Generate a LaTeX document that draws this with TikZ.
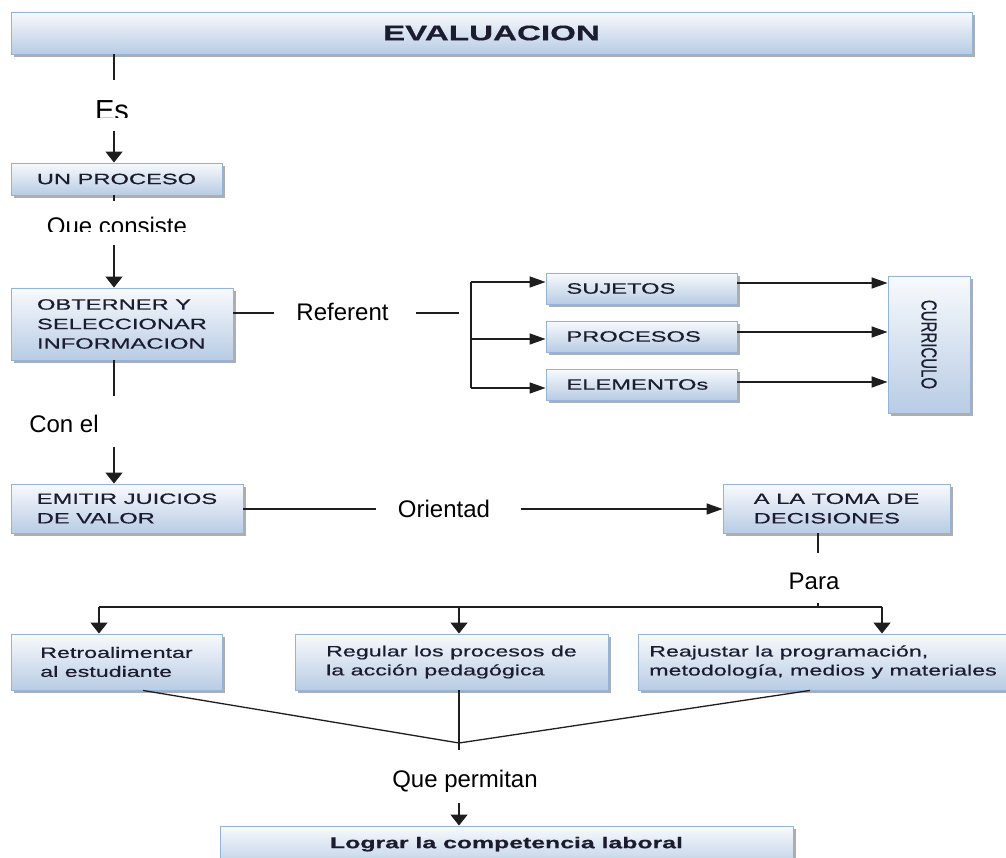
\documentclass[tikz,border=0pt]{standalone}
\usepackage{fontspec}
\setmainfont{Liberation Sans}
\newfontfamily\boxfont[FakeStretch=1.58,FakeBold=0.5]{Liberation Sans}
\newfontfamily\lowfont[FakeStretch=1.55,FakeBold=0.5]{Liberation Sans}
\newfontfamily\upfont[FakeBold=0.5]{Liberation Sans}
\usetikzlibrary{arrows.meta,shadows}

\definecolor{boxtop}{RGB}{248,250,253}
\definecolor{boxbot}{RGB}{184,204,228}
\definecolor{boxline}{RGB}{149,179,215}
\definecolor{boxtext}{RGB}{28,28,48}
\definecolor{linkcol}{RGB}{30,30,30}

\begin{document}
\begin{tikzpicture}[x=1pt,y=-1pt,
  every node/.style={inner sep=0pt},
  box/.style={draw=boxline, line width=0.9pt, top color=boxtop, bottom color=boxbot,
    align=left, text=boxtext,
    drop shadow={shadow xshift=2.5pt, shadow yshift=-3pt, fill=black!45, opacity=0.7}},
  capsbox/.style={box, font=\boxfont\fontsize{15}{19.5}\selectfont},
  lowbox/.style={box, font=\lowfont\fontsize{15}{19}\selectfont},
  titlebox/.style={box, font=\boxfont\bfseries\fontsize{21}{25}\selectfont},
  goalbox/.style={box, font=\boxfont\bfseries\fontsize{15.7}{19}\selectfont},
  lbl/.style={anchor=base, font=\fontsize{24}{28}\selectfont, text=black},
  link/.style={draw=linkcol, line width=1.6pt},
  thinlink/.style={draw=linkcol, line width=1.3pt},
  varrow/.style={link, -{Triangle[width=17pt,length=11pt]}},
  harrow/.style={link, -{Triangle[width=11pt,length=16pt]}},
]
\clip (0,0) rectangle (1006,858);

% ---------- boxes ----------
\node[titlebox, minimum width=961pt, minimum height=42pt] (title) at (491.5,33) {EVALUACION};
\node[capsbox, minimum width=211pt, minimum height=32pt] (proceso) at (116.5,179) {UN PROCESO};
\node[capsbox, minimum width=222pt, minimum height=72pt] (obtener) at (122,324)
  {OBTERNER Y\\SELECCIONAR\\INFORMACION};
\node[capsbox, minimum width=191pt, minimum height=31pt, text width=150pt] (sujetos) at (641.5,288.5) {SUJETOS};
\node[capsbox, minimum width=191pt, minimum height=31pt, text width=150pt] (procesos) at (641.5,336.5) {PROCESOS};
\node[capsbox, minimum width=191pt, minimum height=31pt, text width=150pt] (elementos) at (641.5,384.5) {ELEMENTOs};
\node[box, minimum width=82pt, minimum height=137pt, font=\upfont\fontsize{15}{19}\selectfont]
  (curriculo) at (929,344.5)
  {\rotatebox{-90}{\scalebox{1}[1.45]{CURRICULO}}};
\node[capsbox, minimum width=232pt, minimum height=49pt] (emitir) at (127,508.5)
  {EMITIR JUICIOS\\DE VALOR};
\node[capsbox, minimum width=227pt, minimum height=49pt] (toma) at (836.5,508.5)
  {A LA TOMA DE\\DECISIONES};
\node[lowbox, minimum width=211pt, minimum height=56pt] (retro) at (116.5,662)
  {Retroalimentar\\al estudiante};
\node[lowbox, minimum width=313pt, minimum height=56pt] (regular) at (451.5,662)
  {Regular los procesos de\\la acción pedagógica};
\node[lowbox, minimum width=380pt, minimum height=56pt] (reajustar) at (828,662)
  {Reajustar la programación,\\metodología, medios y materiales\hspace*{10pt}};
\node[goalbox, minimum width=573pt, minimum height=44pt] (lograr) at (506.5,848)
  {Lograr la competencia laboral\\[-8pt]\mbox{}};

% ---------- connector labels ----------
\begin{scope}
  \clip (60,80) rectangle (170,118);
  \node[lbl, font=\fontsize{29}{33}\selectfont] (es) at (112,121) {Es};
\end{scope}
\begin{scope}
  \clip (30,205) rectangle (210,232);
  \node[lbl] (consiste) at (117,235) {Que consiste};
\end{scope}
\node[lbl] (referent) at (342.5,321) {Referent};
\node[lbl] (conel) at (64,432) {Con el};
\node[lbl] (orientad) at (444,517) {Orientad};
\node[lbl] (para) at (814,589) {Para};
\node[lbl] (permitan) at (465,787) {Que permitan};

% ---------- break points of the connectors ----------
\coordinate (colA) at (114,0);
\coordinate (esT) at (114,80);
\coordinate (esB) at (114,131);
\coordinate (coT) at (114,201);
\coordinate (coB) at (114,245);
\coordinate (ceT) at (114,396);
\coordinate (ceB) at (114,447);
\coordinate (refY) at (0,313);
\coordinate (refL) at (274,313);
\coordinate (refR) at (416,313);
\coordinate (refE) at (459,313);
\coordinate (b1) at (471,282);
\coordinate (b2) at (471,339);
\coordinate (b3) at (471,388);
\coordinate (o1) at (0,283);
\coordinate (o2) at (0,332);
\coordinate (o3) at (0,382);
\coordinate (oriL) at (376,509);
\coordinate (oriR) at (521,509);
\coordinate (paT) at (818,553);
\coordinate (paK) at (818,603);
\coordinate (pL) at (99,607);
\coordinate (pM) at (459,607);
\coordinate (pR) at (882,607);
\coordinate (pK) at (818,607);
\coordinate (jn) at (459,743);
\coordinate (jnB) at (459,750);
\coordinate (peB) at (459,803);
\coordinate (cvL) at (143,0);
\coordinate (cvR) at (810,0);

% ---------- main column ----------
\draw[link] (title.south -| colA) -- (esT);
\draw[varrow] (esB) -- (proceso.north -| colA);
\draw[link] (proceso.south -| colA) -- (coT);
\draw[varrow] (coB) -- (obtener.north -| colA);
\draw[link] (obtener.south -| colA) -- (ceT);
\draw[varrow] (ceB) -- (emitir.north -| colA);

% ---------- referents ----------
\draw[link] (refY -| obtener.east) -- (refL);
\draw[link] (refR) -- (refE);
\draw[link] (b1) -- (b3);
\draw[harrow] (b1) -- (b1 -| sujetos.west);
\draw[harrow] (b2) -- (b2 -| procesos.west);
\draw[harrow] (b3) -- (b3 -| elementos.west);
\draw[harrow] (o1 -| sujetos.east) -- (o1 -| curriculo.west);
\draw[harrow] (o2 -| procesos.east) -- (o2 -| curriculo.west);
\draw[harrow] (o3 -| elementos.east) -- (o3 -| curriculo.west);

% ---------- decisions ----------
\draw[link] (emitir.east |- oriL) -- (oriL);
\draw[harrow] (oriR) -- (oriR -| toma.west);
\draw[link] (toma.south -| paT) -- (paT);
\draw[link] (paK) -- (pK);
\draw[link] (pL) -- (pR);
\draw[varrow] (pL) -- (pL |- retro.north);
\draw[varrow] (pM) -- (pM |- regular.north);
\draw[varrow] (pR) -- (pR |- reajustar.north);

% ---------- convergence ----------
\draw[thinlink] (retro.south -| cvL) -- (jn) -- (reajustar.south -| cvR);
\draw[thinlink] (regular.south -| jn) -- (jnB);
\draw[varrow] (peB) -- (lograr.north -| peB);
\end{tikzpicture}
\end{document}
